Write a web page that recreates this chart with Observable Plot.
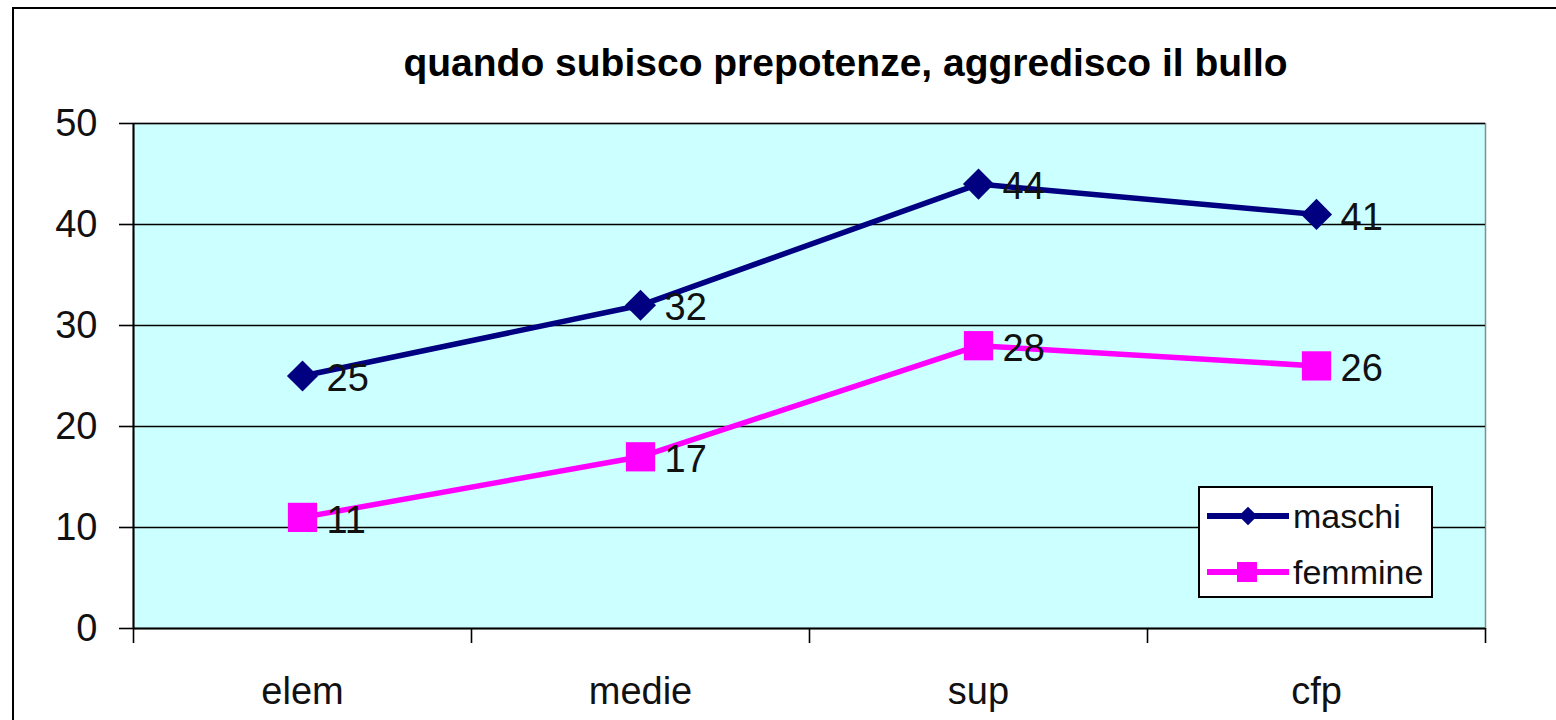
<!DOCTYPE html>
<html><head><meta charset="utf-8">
<script src="https://cdn.jsdelivr.net/npm/d3@7"></script>
<script src="https://cdn.jsdelivr.net/npm/@observablehq/plot@0.6"></script>
<style>
body{margin:0;background:#fff;overflow:hidden;font-family:"Liberation Sans",Arial,sans-serif;}
#wrap{position:relative;width:1556px;height:720px;overflow:hidden;}
#frame{position:absolute;left:12px;top:7px;width:1600px;height:800px;border:2px solid #000;box-sizing:border-box;}
#chart{position:absolute;left:0;top:0;}
#legend{position:absolute;left:1198px;top:486px;}
</style></head>
<body><div id="wrap"><div id="frame"></div><div id="chart"></div><div id="legend"></div></div>
<script>
const title = "quando subisco prepotenze, aggredisco il bullo";
const categories = ["elem","medie","sup","cfp"];
const seriesNames = ["maschi","femmine"];
const maschi = [25,32,44,41];
const femmine = [11,17,28,26];
const yTicks = [0,10,20,30,40,50];
const seriesColors = ["#000080","#ff00ff"];

const rows = [];
categories.forEach((c,i)=>{
  rows.push({series:"maschi", cat:c, i, value:maschi[i]});
  rows.push({series:"femmine", cat:c, i, value:femmine[i]});
});
const boundaries = d3.range(categories.length+1).map(k=>k-0.5);
const font = '"Liberation Sans", Arial, sans-serif';

const plot = Plot.plot({
  width:1556, height:720,
  marginLeft:133, marginRight:71, marginTop:123, marginBottom:92,
  style:{fontFamily:font, background:"transparent", color:"#000", overflow:"visible"},
  x:{type:"linear", domain:[-0.5, categories.length-0.5]},
  y:{domain:[0,50]},
  color:{domain:seriesNames, range:seriesColors},
  marks:[
    Plot.frame({fill:"#ccffff", stroke:"#7f8f8f", strokeWidth:1.5}),
    Plot.gridY(yTicks.slice(1), {stroke:"#000", strokeOpacity:1, strokeWidth:1.6}),
    Plot.axisY(yTicks, {tickSize:14, tickPadding:22, fontSize:38, label:null, strokeWidth:1.6, fill:"#111"}),
    Plot.axisX(boundaries, {tickSize:15, tickFormat:()=>"", label:null, strokeWidth:1.6}),
    Plot.axisX(d3.range(categories.length), {tickSize:0, tickPadding:49, tickFormat:i=>categories[i], fontSize:38, label:null, fill:"#111"}),
    Plot.ruleX([-0.5], {stroke:"#000", strokeWidth:2}),
    Plot.ruleY([0], {stroke:"#000", strokeWidth:2}),
    Plot.line(rows, {x:"i", y:"value", z:"series", stroke:"series", strokeWidth:5.5}),
    Plot.dot(rows.filter(d=>d.series==="maschi"), {x:"i", y:"value", symbol:()=>"diamond2", fill:"series", r:14, stroke:"none"}),
    Plot.dot(rows.filter(d=>d.series==="femmine"), {x:"i", y:"value", symbol:()=>"square", fill:"series", r:16.5, stroke:"none"}),
    Plot.text(rows, {x:"i", y:"value", text:d=>String(d.value), textAnchor:"start", lineAnchor:"middle", dx:24, dy:3, fontSize:38, fill:"#111"}),
    Plot.text([title], {frameAnchor:"top", dx:36, dy:-60, lineAnchor:"middle", fontSize:39, fontWeight:"bold", fill:"#000"})
  ],
  symbol:{domain:["diamond2","square"], range:["diamond2","square"]}
});
document.getElementById("chart").appendChild(plot);

// Legend (inside plot area, as in the original)
const lw = 235, lh = 112;
const leg = d3.select("#legend").append("svg").attr("width", lw).attr("height", lh)
  .style("font-family", font);
leg.append("rect").attr("x",1).attr("y",1).attr("width",lw-2).attr("height",lh-2)
  .attr("fill","#fff").attr("stroke","#000").attr("stroke-width",2);
seriesNames.forEach((name,k)=>{
  const cy = k===0 ? 30 : 86;
  const g = leg.append("g");
  g.append("line").attr("x1",9).attr("x2",91).attr("y1",cy).attr("y2",cy)
    .attr("stroke",seriesColors[k]).attr("stroke-width",6);
  if (k===0) {
    g.append("path").attr("d", d3.symbol(d3.symbolDiamond2, 220)()).attr("transform",`translate(50,${cy})`).attr("fill",seriesColors[k]);
  } else {
    g.append("rect").attr("x",39).attr("y",cy-10).attr("width",20).attr("height",20).attr("fill",seriesColors[k]);
  }
  g.append("text").attr("x",95).attr("y",cy).attr("dy","0.35em").attr("font-size",34).attr("fill","#111").text(name);
});
</script>
</body></html>
